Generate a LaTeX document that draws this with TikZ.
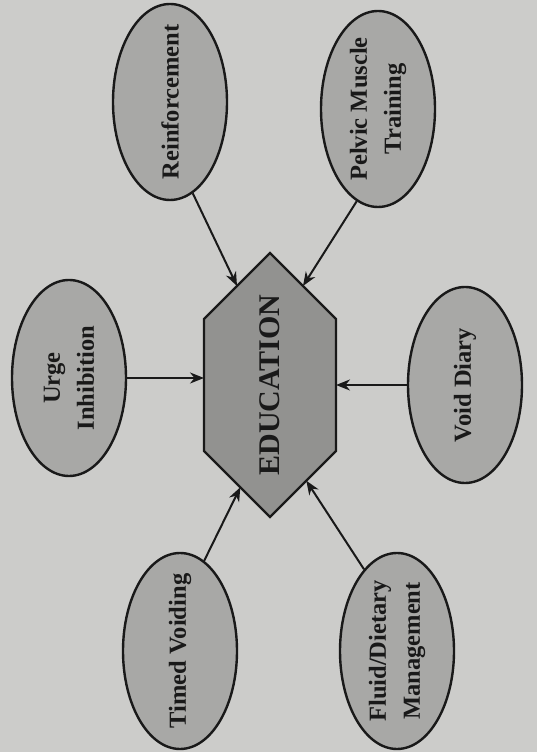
\documentclass[tikz,border=0pt]{standalone}
\usepackage{fontspec}
\setmainfont{Liberation Serif}
\usetikzlibrary{shapes.geometric,arrows.meta,calc}
\definecolor{paper}{RGB}{204,204,202}
\definecolor{bubblefill}{RGB}{168,168,166}
\definecolor{hexfill}{RGB}{146,146,144}
\definecolor{ink}{RGB}{25,25,25}
\tikzset{
  bubble/.style={ellipse, draw=ink, line width=2.4pt, fill=bubblefill,
    minimum width=114pt, minimum height=196pt, inner sep=0pt},
  bubbletext/.style={rotate=90, align=center, text=ink,
    font=\bfseries\fontsize{24.5}{34}\selectfont},
  feed/.style={draw=ink, line width=2pt, -{Stealth[length=14pt,width=11pt]}}
}
\begin{document}
\begin{tikzpicture}[x=1pt,y=1pt]
    % Paper
    \fill[paper] (0,0) rectangle (537,752);
    \useasboundingbox (0,0) rectangle (537,752);

    % Draw the hexagon
    \coordinate (hexT) at (270,499);
    \coordinate (hexUL) at (204,433);
    \coordinate (hexLL) at (204,301);
    \coordinate (hexB) at (270,235);
    \coordinate (hexLR) at (336,301);
    \coordinate (hexUR) at (336,433);
    \draw[draw=ink, line width=2.4pt, fill=hexfill]
      (hexT) -- (hexUL) -- (hexLL) -- (hexB) -- (hexLR) -- (hexUR) -- cycle;
    \node[rotate=90, text=ink, font=\bfseries\fontsize{30}{36}\selectfont] (edu) at (270,367) {EDUCATION};

    % The six bubbles
    \node[bubble] (reinf) at (170,650) {};
    \node[bubbletext] (reinf-t) at (reinf) {Reinforcement};
    \node[bubble] (pelvic) at (378,643) {};
    \node[bubbletext] (pelvic-t) at (pelvic) {Pelvic Muscle\\Training};
    \node[bubble] (urge) at (69,374) {};
    \node[bubbletext] (urge-t) at (urge) {Urge\\Inhibition};
    \node[bubble] (void) at (465,367) {};
    \node[bubbletext] (void-t) at (void) {Void Diary};
    \node[bubble] (timed) at (180,101) {};
    \node[bubbletext] (timed-t) at (timed) {Timed Voiding};
    \node[bubble] (fluid) at (397,101) {};
    \node[bubbletext] (fluid-t) at (fluid) {Fluid/Dietary\\Management};

    % Arrows into the hexagon
    \draw[feed] (reinf.-76) -- ($(hexT)!0.5!(hexUL)$);
    \draw[feed] (pelvic.-103) -- ($(hexT)!0.5!(hexUR)$);
    \draw[feed] (urge.east) -- (urge.east -| hexUL);
    \draw[feed] (void.west) -- (void.west -| hexUR);
    \draw[feed] (timed.75) -- ($(hexB)!0.45!(hexLL)$);
    \draw[feed] (fluid.112) -- ($(hexB)!0.55!(hexLR)$);
\end{tikzpicture}
\end{document}
